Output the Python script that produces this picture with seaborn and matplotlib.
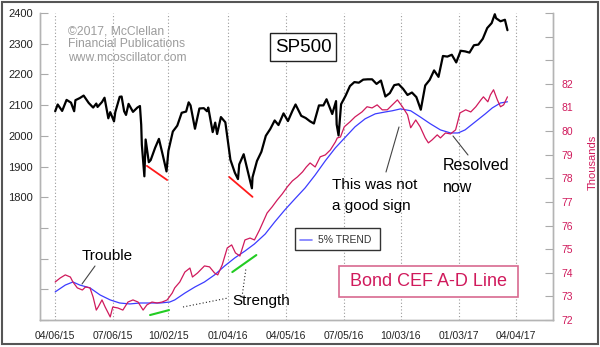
import matplotlib
matplotlib.use("Agg")
import matplotlib.pyplot as plt
from matplotlib.lines import Line2D
from matplotlib.patches import Rectangle
import seaborn as sns
import pandas as pd

# ---------------- data ----------------
spx_dates = [
    "2015-04-06", "2015-04-10", "2015-04-17", "2015-04-24", "2015-05-01", "2015-05-06",
    "2015-05-08", "2015-05-15", "2015-05-21", "2015-05-29", "2015-06-05", "2015-06-10",
    "2015-06-12", "2015-06-19", "2015-06-23", "2015-06-29", "2015-07-02", "2015-07-08",
    "2015-07-10", "2015-07-17", "2015-07-20", "2015-07-24", "2015-07-27", "2015-07-31",
    "2015-08-07", "2015-08-14", "2015-08-18", "2015-08-20", "2015-08-21", "2015-08-25",
    "2015-08-27", "2015-09-01", "2015-09-04", "2015-09-11", "2015-09-17", "2015-09-23",
    "2015-09-29", "2015-10-02", "2015-10-09", "2015-10-16", "2015-10-23", "2015-10-30",
    "2015-11-03", "2015-11-06", "2015-11-13", "2015-11-20", "2015-11-27", "2015-12-02",
    "2015-12-04", "2015-12-11", "2015-12-15", "2015-12-18", "2015-12-24", "2015-12-31",
    "2016-01-08", "2016-01-15", "2016-01-20", "2016-01-22", "2016-01-29", "2016-02-05",
    "2016-02-11", "2016-02-12", "2016-02-19", "2016-02-26", "2016-03-04", "2016-03-11",
    "2016-03-18", "2016-03-24", "2016-04-01", "2016-04-08", "2016-04-15", "2016-04-20",
    "2016-04-29", "2016-05-06", "2016-05-13", "2016-05-19", "2016-05-27", "2016-06-03",
    "2016-06-08", "2016-06-17", "2016-06-23", "2016-06-24", "2016-06-27", "2016-07-01",
    "2016-07-08", "2016-07-15", "2016-07-22", "2016-07-29", "2016-08-05", "2016-08-12",
    "2016-08-19", "2016-08-26", "2016-09-02", "2016-09-09", "2016-09-16", "2016-09-23",
    "2016-09-30", "2016-10-07", "2016-10-14", "2016-10-21", "2016-10-28", "2016-11-04",
    "2016-11-11", "2016-11-18", "2016-11-25", "2016-12-02", "2016-12-09", "2016-12-16",
    "2016-12-23", "2016-12-30", "2017-01-06", "2017-01-13", "2017-01-20", "2017-01-27",
    "2017-02-03", "2017-02-10", "2017-02-17", "2017-02-24", "2017-03-01", "2017-03-03",
    "2017-03-10", "2017-03-17", "2017-03-21",
]
spx_values = [
    2080, 2102, 2081, 2117, 2108, 2080,
    2116, 2123, 2131, 2107, 2092, 2105,
    2094, 2110, 2124, 2057, 2077, 2047,
    2077, 2127, 2128, 2080, 2068, 2104,
    2078, 2092, 2097, 2036, 1971, 1868,
    1988, 1914, 1921, 1961, 1990, 1938,
    1884, 1951, 2014, 2033, 2075, 2079,
    2109, 2099, 2023, 2089, 2090, 2080,
    2092, 2012, 2043, 2006, 2061, 2044,
    1922, 1880, 1859, 1907, 1940, 1880,
    1829, 1865, 1918, 1948, 2000, 2022,
    2050, 2035, 2073, 2048, 2081, 2102,
    2065, 2058, 2047, 2040, 2099, 2099,
    2119, 2071, 2113, 2037, 2001, 2103,
    2130, 2162, 2175, 2173, 2183, 2184,
    2184, 2169, 2180, 2128, 2139, 2165,
    2168, 2153, 2133, 2141, 2126, 2085,
    2164, 2182, 2213, 2192, 2260, 2258,
    2264, 2239, 2277, 2275, 2271, 2295,
    2297, 2316, 2351, 2367, 2396, 2383,
    2373, 2378, 2344,
]

ad_dates = [
    "2015-04-06", "2015-04-14", "2015-04-22", "2015-04-30", "2015-05-04", "2015-05-11",
    "2015-05-19", "2015-05-24", "2015-05-31", "2015-06-05", "2015-06-10", "2015-06-13",
    "2015-06-19", "2015-06-24", "2015-07-02", "2015-07-06", "2015-07-14", "2015-07-22",
    "2015-07-30", "2015-08-07", "2015-08-15", "2015-08-23", "2015-08-29", "2015-09-06",
    "2015-09-14", "2015-09-22", "2015-09-30", "2015-10-08", "2015-10-12", "2015-10-20",
    "2015-10-28", "2015-11-05", "2015-11-09", "2015-11-17", "2015-11-28", "2015-12-06",
    "2015-12-14", "2015-12-19", "2015-12-26", "2016-01-03", "2016-01-10", "2016-01-16",
    "2016-01-23", "2016-01-31", "2016-02-08", "2016-02-15", "2016-02-23", "2016-03-06",
    "2016-03-14", "2016-03-22", "2016-03-30", "2016-04-07", "2016-04-15", "2016-04-23",
    "2016-05-01", "2016-05-07", "2016-05-13", "2016-05-21", "2016-05-29", "2016-06-06",
    "2016-06-14", "2016-06-22", "2016-06-25", "2016-06-30", "2016-07-06", "2016-07-15",
    "2016-07-23", "2016-08-03", "2016-08-11", "2016-08-19", "2016-08-27", "2016-09-04",
    "2016-09-12", "2016-09-20", "2016-09-28", "2016-10-06", "2016-10-14", "2016-10-19",
    "2016-10-27", "2016-11-03", "2016-11-11", "2016-11-16", "2016-11-22", "2016-11-30",
    "2016-12-05", "2016-12-13", "2016-12-21", "2016-12-29", "2017-01-05", "2017-01-14",
    "2017-01-22", "2017-01-30", "2017-02-07", "2017-02-11", "2017-02-18", "2017-02-22",
    "2017-02-27", "2017-03-05", "2017-03-10", "2017-03-15", "2017-03-21",
]
ad_values = [
    73.61, 73.78, 73.91, 73.82, 73.61, 73.36,
    73.27, 73.40, 73.36, 72.97, 72.42, 72.55,
    72.85, 72.55, 72.13, 72.55, 72.51, 72.42,
    72.76, 72.85, 72.76, 72.42, 72.64, 72.76,
    72.72, 72.76, 72.85, 73.14, 73.36, 73.61,
    74.03, 74.20, 73.82, 73.99, 74.29, 74.25,
    73.99, 73.91, 74.33, 75.05, 75.18, 74.84,
    74.71, 75.39, 75.47, 75.39, 75.81, 76.53,
    76.79, 77.08, 77.34, 77.64, 77.89, 78.06,
    78.27, 78.48, 78.65, 78.48, 78.91, 78.99,
    79.20, 79.54, 79.71, 79.75, 80.18, 80.39,
    80.60, 80.81, 81.03, 80.98, 81.11, 80.90,
    80.90, 81.11, 81.32, 81.03, 80.69, 80.14,
    80.47, 80.18, 79.71, 79.50, 79.63, 79.84,
    79.71, 79.92, 79.88, 80.05, 80.77, 80.90,
    80.81, 81.03, 81.32, 81.45, 81.24, 81.53,
    81.75, 81.32, 81.03, 81.11, 81.45,
]

trend_dates = [
    "2015-04-06", "2015-04-22", "2015-05-04", "2015-05-15", "2015-05-31", "2015-06-16",
    "2015-07-02", "2015-07-17", "2015-08-02", "2015-08-18", "2015-09-03", "2015-09-19",
    "2015-10-04", "2015-10-12", "2015-10-28", "2015-11-13", "2015-11-28", "2015-12-14",
    "2015-12-30", "2016-01-15", "2016-01-31", "2016-02-15", "2016-03-03", "2016-03-18",
    "2016-04-03", "2016-04-19", "2016-05-05", "2016-05-21", "2016-06-06", "2016-06-22",
    "2016-07-08", "2016-07-23", "2016-08-08", "2016-08-24", "2016-09-09", "2016-09-20",
    "2016-10-03", "2016-10-19", "2016-11-03", "2016-11-19", "2016-12-05", "2016-12-21",
    "2017-01-02", "2017-01-13", "2017-01-29", "2017-02-14", "2017-02-25", "2017-03-10",
    "2017-03-21",
]
trend_values = [
    73.19, 73.48, 73.61, 73.48, 73.36, 73.06,
    72.85, 72.72, 72.68, 72.72, 72.72, 72.72,
    72.76, 72.85, 73.14, 73.40, 73.61, 73.91,
    74.29, 74.63, 74.92, 75.22, 75.64, 76.15,
    76.66, 77.13, 77.59, 78.14, 78.74, 79.29,
    79.75, 80.18, 80.52, 80.73, 80.81, 80.86,
    80.94, 80.86, 80.60, 80.31, 80.05, 79.92,
    79.92, 80.05, 80.39, 80.73, 80.98, 81.19,
    81.24,
]

tick_dates = ["2015-04-06", "2015-07-06", "2015-10-02", "2016-01-04", "2016-04-05",
              "2016-07-05", "2016-10-03", "2017-01-03", "2017-04-04"]
left_ticks = list(range(1400, 2401, 100))
right_ticks = list(range(72, 86))

# annotation marker segments (data coordinates)
red1_dates, red1_values = ["2015-08-29", "2015-09-30"], [1902, 1856]
red2_dates, red2_values = ["2016-01-06", "2016-02-12"], [1866, 1801]
green1_dates, green1_values = ["2015-09-03", "2015-10-03"], [72.21, 72.42]
green2_dates, green2_values = ["2016-01-11", "2016-02-18"], [74.03, 74.75]

# ---------------- style ----------------
sns.set_theme(style="white")
plt.rcParams["font.family"] = ["Liberation Sans", "DejaVu Sans"]

CRIMSON = "#d01a5c"
BLUE = "#3c3cff"
SPINE = "#b4b4b4"

W, H = 600, 347
fig = plt.figure(figsize=(W / 100, H / 100), dpi=100)
fig.patch.set_facecolor("white")


def P(x, y):
    return (x / W, 1 - y / H)


ax = fig.add_axes([40 / W, 1 - 320 / H, 513 / W, 307 / H])
ax2 = ax.twinx()

to_dt = pd.to_datetime

sns.lineplot(x=to_dt(spx_dates), y=spx_values, ax=ax, color="black",
             linewidth=1.6, legend=False)
sns.lineplot(x=to_dt(trend_dates), y=trend_values, ax=ax2, color=BLUE,
             linewidth=0.9, legend=False)
trend_line = ax2.lines[-1]
sns.lineplot(x=to_dt(ad_dates), y=ad_values, ax=ax2, color=CRIMSON,
             linewidth=0.9, legend=False)

for d, v in [(red1_dates, red1_values), (red2_dates, red2_values)]:
    ax.plot(to_dt(d), v, color="#ff1a1a", linewidth=1.3)
for d, v in [(green1_dates, green1_values), (green2_dates, green2_values)]:
    ax2.plot(to_dt(d), v, color="#22cc22", linewidth=1.5)

ax.set_xlim(pd.Timestamp("2015-03-13"), pd.Timestamp("2017-06-01"))
ax.set_ylim(1400, 2400)
ax2.set_ylim(72, 85)

ax.set_xticks(to_dt(tick_dates))
ax.set_xticklabels([pd.Timestamp(t).strftime("%m/%d/%y") for t in tick_dates])
ax.set_yticks(left_ticks)
ax.set_yticklabels([str(v) if v >= 1800 else "" for v in left_ticks])
ax2.set_yticks(right_ticks)
ax2.set_yticklabels([str(v) if v <= 82 else "" for v in right_ticks])

ax.tick_params(axis="x", length=0, labelsize=7.5, pad=8, labelcolor="#222222")
ax.tick_params(axis="y", direction="in", length=6, color="#aaaaaa", width=0.8,
               labelsize=8, pad=5, labelcolor="#222222")
ax2.tick_params(axis="y", direction="in", length=6, color="#aaaaaa", width=0.8,
                labelsize=7.5, pad=6, labelcolor=CRIMSON)
ax.set_xlabel("")
ax.set_ylabel("")
ax2.set_xlabel("")
ax2.set_ylabel("Thousands", color=CRIMSON, fontsize=8)
ax2.yaxis.set_label_coords((588 - 40) / 513, (320 - 162) / 307)

ax.grid(False)
ax2.grid(False)
ax.xaxis.grid(True, linestyle=(0, (1, 2)), color="#9a9a9a", linewidth=0.8)

for a in (ax, ax2):
    a.spines["top"].set_visible(False)
    for s in ("left", "right", "bottom"):
        a.spines[s].set_color(SPINE)
        a.spines[s].set_linewidth(1.0)

# ---------------- annotations ----------------
gray_txt = "#9c9c9c"
for txt, y in [("\u00a92017, McClellan", 31), ("Financial Publications", 44),
               ("www.mcoscillator.com", 58)]:
    fig.text(*P(68, y), txt, fontsize=8.7, color=gray_txt, ha="left", va="center")


def box(x0, y0, x1, y1, ec, lw=1.0):
    fig.patches.append(Rectangle(P(x0, y1), (x1 - x0) / W, (y1 - y0) / H,
                                 transform=fig.transFigure, facecolor="white",
                                 edgecolor=ec, linewidth=lw, zorder=2))


box(270, 33, 336, 61, "#222222", 1.0)
fig.text(*P(303, 47.5), "SP500", fontsize=13.5, color="black", ha="center",
         va="center", zorder=3)

box(339, 266, 518, 297, "#d86a90", 1.2)
fig.text(*P(428.5, 282), "Bond CEF A-D Line", fontsize=13, color=CRIMSON,
         ha="center", va="center", zorder=3)

box(295, 228, 380, 250, "#333333", 1.0)
fig.add_artist(Line2D([P(300, 240)[0], P(312, 240)[0]], [P(300, 240)[1]] * 2,
                      transform=fig.transFigure, color="#7a7aff", linewidth=1.2,
                      zorder=3))
fig.text(*P(318, 240), "5% TREND", fontsize=7.5, color="#333333", ha="left",
         va="center", zorder=3)

fig.text(*P(82, 256), "Trouble", fontsize=11, color="black", ha="left", va="center")
fig.text(*P(232, 301), "Strength", fontsize=11, color="black", ha="left", va="center")
fig.text(*P(332, 185), "This was not", fontsize=11, color="black", ha="left", va="center")
fig.text(*P(332, 206), "a good sign", fontsize=11, color="black", ha="left", va="center")
fig.text(*P(443, 165), "Resolved", fontsize=11.5, color="black", ha="left", va="center")
fig.text(*P(443, 188), "now", fontsize=11.5, color="black", ha="left", va="center")


def seg(x0, y0, x1, y1, ls="-", color="#444444", lw=0.8):
    a, b = P(x0, y0), P(x1, y1)
    fig.add_artist(Line2D([a[0], b[0]], [a[1], b[1]], transform=fig.transFigure,
                          color=color, linewidth=lw, linestyle=ls, zorder=3))


seg(95, 266, 82, 284)
seg(183, 307, 228, 298, ls=(0, (1, 2)), color="#222222")
seg(242, 297, 246, 268, ls=(0, (1, 2)), color="#222222")
seg(386, 172, 399, 127)
seg(453, 136, 468, 155)

# outer frame
fig.patches.append(Rectangle((2 / W, 1 - 344 / H), 596 / W, 342 / H,
                             transform=fig.transFigure, fill=False,
                             edgecolor="#555555", linewidth=1.5, zorder=4))

fig.savefig("out.png", dpi=100, facecolor="white")
